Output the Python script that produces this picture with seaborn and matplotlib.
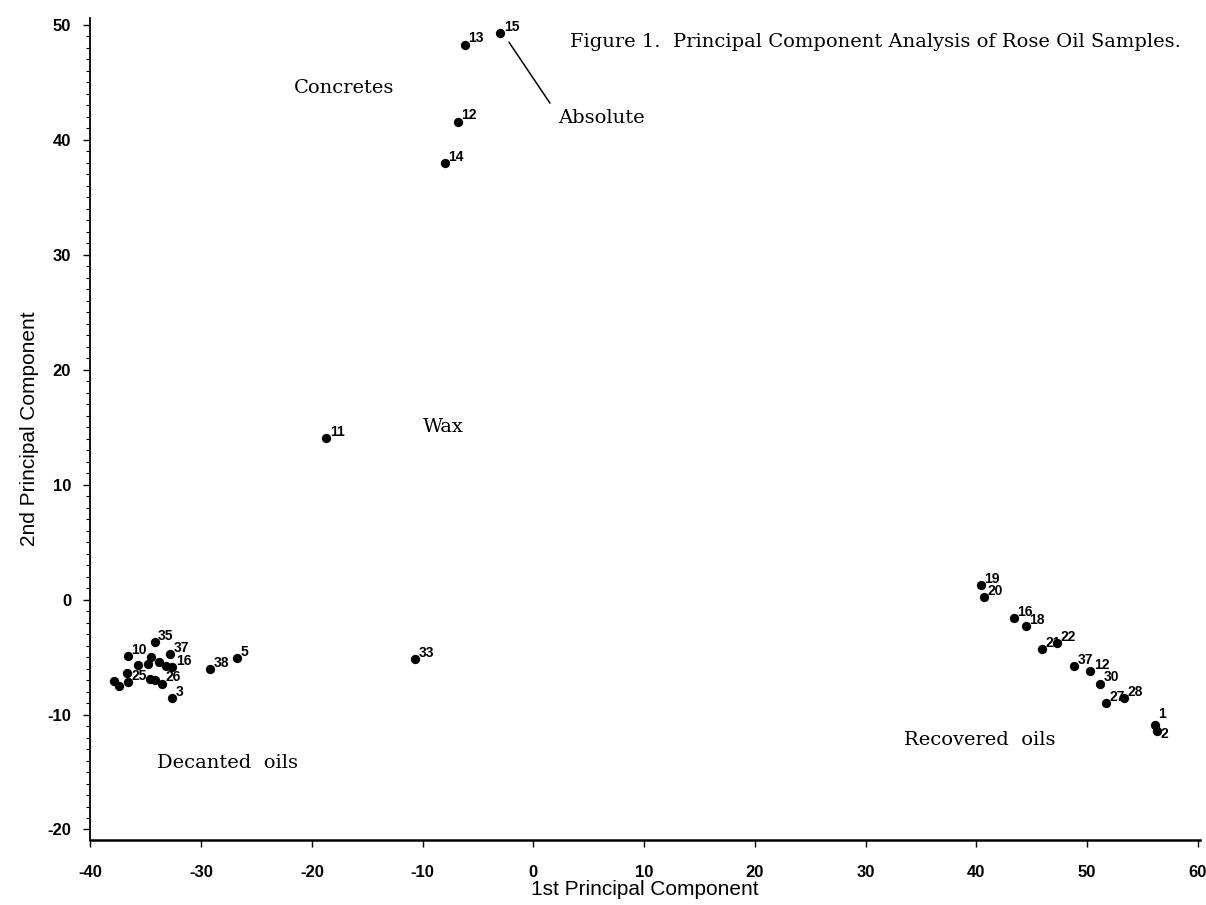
import pandas as pd
import matplotlib.pyplot as plt
import seaborn as sns
from matplotlib.ticker import MultipleLocator

# sample labels and PCA scores
labels = ["15", "13", "12", "14", "11", "33", "38", "5",
          "35", "10", "37", "", "", "", "", "16", "", "", "25", "", "", "", "26", "", "3",
          "19", "20", "16", "18", "21", "22", "37", "12", "30", "27", "28", "1", "2"]
pc1 = [-3.0, -6.2, -6.8, -8.0, -18.7, -10.7, -29.2, -26.8,
       -34.2, -36.6, -32.8, -34.5, -33.8, -34.8, -33.2, -32.6, -35.7, -36.7, -36.6, -37.9, -37.4, -34.6, -33.5, -34.2, -32.6,
       40.4, 40.7, 43.4, 44.5, 45.9, 47.3, 48.8, 50.3, 51.2, 51.7, 53.3, 56.1, 56.3]
pc2 = [49.3, 48.3, 41.6, 38.0, 14.1, -5.2, -6.0, -5.1,
       -3.7, -4.9, -4.7, -5.0, -5.4, -5.6, -5.8, -5.9, -5.7, -6.4, -7.2, -7.1, -7.5, -6.9, -7.3, -7.0, -8.6,
       1.3, 0.2, -1.6, -2.3, -4.3, -3.8, -5.8, -6.2, -7.3, -9.0, -8.6, -10.9, -11.4]

group_names = ["Concretes", "Absolute", "Wax", "Decanted  oils", "Recovered  oils"]
group_x = [-21.6, 2.2, -10.0, -34.0, 33.5]
group_y = [44.5, 41.9, 15.0, -14.2, -12.2]

x_ticks = [-40, -30, -20, -10, 0, 10, 20, 30, 40, 50, 60]
y_ticks = [-20, -10, 0, 10, 20, 30, 40, 50]

df = pd.DataFrame({"pc1": pc1, "pc2": pc2, "label": labels})

sns.set_style("ticks")
plt.rcParams["font.family"] = ["Liberation Sans", "DejaVu Sans"]
plt.rcParams["axes.unicode_minus"] = False
plt.rcParams.update({"text.color": "black", "axes.labelcolor": "black",
                     "xtick.color": "black", "ytick.color": "black",
                     "axes.edgecolor": "black"})

fig = plt.figure(figsize=(12.06, 9.05), dpi=100)
ax = fig.add_axes([0.075, 0.072, 0.92, 0.908])

sns.scatterplot(data=df, x="pc1", y="pc2", color="black", s=45, edgecolor="black",
                linewidth=0, ax=ax, legend=False)

for i, r in df.iterrows():
    if r["label"]:
        # the last two points sit on top of each other, nudge their labels apart
        off = (2.5, 1.5)
        if i == len(df) - 2:
            off = (2.5, 5)
        elif i == len(df) - 1:
            off = (2.5, -5)
        ax.annotate(r["label"], (r["pc1"], r["pc2"]), xytext=off,
                    textcoords="offset points", fontsize=10, fontweight="bold",
                    color="black")

serif = ["DejaVu Serif"]
for name, gx, gy in zip(group_names, group_x, group_y):
    ax.text(gx, gy, name, fontsize=14, family=serif, va="center", ha="left")

ax.plot([-2.2, 1.5], [48.5, 43.2], color="black", lw=1.1)
ax.text(3.3, 48.5, "Figure 1.  Principal Component Analysis of Rose Oil Samples.",
        fontsize=14, family=serif, va="center", ha="left")

ax.set_xlim(-39.7, 60.2)
ax.set_ylim(-20.9, 50.6)
ax.set_xticks(x_ticks)
ax.set_yticks(y_ticks)
ax.yaxis.set_minor_locator(MultipleLocator(1))
ax.tick_params(axis="both", which="major", labelsize=12, length=5, width=1, direction="out")
ax.tick_params(axis="x", which="major", pad=13)
ax.tick_params(axis="y", which="major", pad=9)
ax.tick_params(axis="y", which="minor", length=3, width=0.8, direction="out")
for t in ax.get_xticklabels() + ax.get_yticklabels():
    t.set_fontweight("bold")

sns.despine(ax=ax)
ax.spines["left"].set_linewidth(1.3)
ax.spines["bottom"].set_linewidth(1.8)

ax.set_xlabel("1st Principal Component", fontsize=15)
ax.set_ylabel("2nd Principal Component", fontsize=15)
ax.xaxis.labelpad = 0
ax.yaxis.labelpad = 6

fig.savefig("out.png", dpi=100)
